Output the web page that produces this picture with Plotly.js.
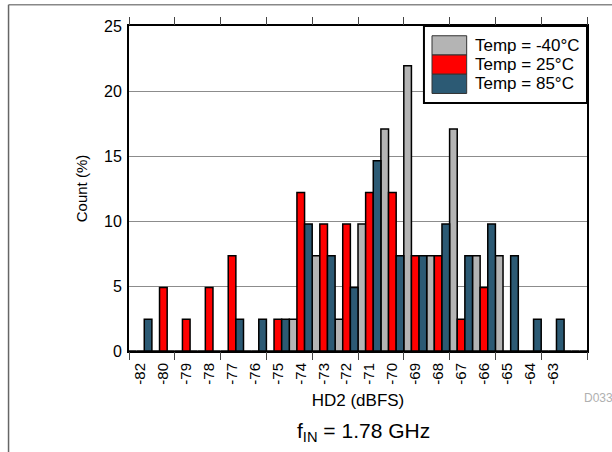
<!DOCTYPE html>
<html>
<head>
<meta charset="utf-8">
<script src="https://cdn.plot.ly/plotly-3.0.1.min.js"></script>
<style>html,body{margin:0;padding:0;background:#fff;}#chart{width:612px;height:452px;}</style>
</head>
<body>
<div id="chart"></div>
<script>
// Bin labels (HD2, dBFS) – one per histogram bin; last bin has no label
const binLabels = ['-82','-80','-79','-78','-77','-76','-75','-74','-73','-72','-71','-70','-69','-68','-67','-66','-65','-64','-63',' '];
// Series names
const seriesNames = ['Temp = -40°C', 'Temp = 25°C', 'Temp = 85°C'];
// Count (%) per bin
const countM40 = [0,0,0,0,0,0,0,2.44,7.32,2.44,9.76,17.07,21.95,7.32,17.07,7.32,7.32,0,0,0];
const count25  = [0,4.88,2.44,4.88,7.32,0,2.44,12.2,9.76,9.76,12.2,12.2,7.32,7.32,2.44,4.88,0,0,0,0];
const count85  = [2.44,0,0,0,2.44,2.44,2.44,9.76,7.32,4.88,14.63,7.32,7.32,9.76,7.32,9.76,7.32,2.44,2.44,0];
const yTicks = [0,5,10,15,20,25];

const colors = ['#b4b4b4', '#ff0000', '#2c5a74'];
const seriesValues = [countM40, count25, count85];

const binPos = binLabels.map((_, i) => i + 0.5);
const majorTicks = [];
for (let i = 0; i <= binLabels.length; i += 2) majorTicks.push(i);

const FONT = 'Liberation Sans, Arial, Helvetica, sans-serif';

const traces = seriesValues.map((vals, k) => ({
  type: 'bar',
  x: binPos,
  y: vals,
  name: seriesNames[k],
  marker: { color: colors[k], line: { color: '#000', width: 1.5 } },
  showlegend: false,
  hoverinfo: 'x+y+name'
}));

// Custom legend (large swatches like the reference)
const shapes = [];
const annotations = [];
const lgX0 = 0.644, lgX1 = 1.0, lgY0 = 0.763, lgY1 = 1.0;
shapes.push({ type: 'rect', xref: 'paper', yref: 'paper', x0: lgX0, x1: lgX1, y0: lgY0, y1: lgY1,
  line: { color: '#000', width: 2 }, fillcolor: '#fff', layer: 'above' });
const swTop = 0.970, swH = 0.0592;
seriesNames.forEach((nm, k) => {
  const yt = swTop - k * swH, yb = yt - swH;
  shapes.push({ type: 'rect', xref: 'paper', yref: 'paper', x0: 0.6616, x1: 0.7373, y0: yb, y1: yt,
    line: { color: '#333', width: 1 }, fillcolor: colors[k], layer: 'above' });
  annotations.push({ xref: 'paper', yref: 'paper', x: 0.752, y: (yt + yb) / 2, xanchor: 'left', yanchor: 'middle',
    text: nm, showarrow: false, font: { family: FONT, size: 17, color: '#000' } });
});

// Outer frame lines (top and left)
shapes.push({ type: 'line', xref: 'paper', yref: 'paper', x0: -0.263, x1: 1.06, y0: 1.0655, y1: 1.0655,
  line: { color: '#888', width: 1.5 } });
shapes.push({ type: 'line', xref: 'paper', yref: 'paper', x0: -0.263, x1: -0.263, y0: 1.0655, y1: -0.32,
  line: { color: '#666', width: 1.5 } });

annotations.push({ xref: 'paper', yref: 'paper', x: 0.513, y: -0.249, xanchor: 'center', yanchor: 'middle',
  text: 'f<sub>IN</sub> = 1.78 GHz', showarrow: false, font: { family: FONT, size: 21, color: '#000' } });
annotations.push({ xref: 'paper', yref: 'paper', x: 0.989, y: -0.145, xanchor: 'left', yanchor: 'middle',
  text: 'D033', showarrow: false, font: { family: FONT, size: 12, color: '#b0b0b0' } });

const layout = {
  width: 612, height: 452,
  margin: { l: 129, r: 25, t: 26, b: 101 },
  paper_bgcolor: '#fff', plot_bgcolor: '#fff',
  font: { family: FONT, color: '#000', size: 15 },
  barmode: 'group', bargap: 0, bargroupgap: 0,
  xaxis: {
    range: [0, binLabels.length],
    tickvals: binPos, ticktext: binLabels,
    tickangle: -90, ticks: '', showgrid: false, zeroline: false,
    showline: true, linecolor: '#000', linewidth: 2, mirror: true,
    ticklabelstandoff: 4,
    tickfont: { family: FONT, size: 15, color: '#000' },
    title: { text: 'HD2 (dBFS)', font: { family: FONT, size: 17, color: '#000' }, standoff: 10 }
  },
  xaxis2: {
    overlaying: 'x', anchor: 'y', side: 'bottom',
    range: [0, binLabels.length],
    tickvals: majorTicks, ticks: 'outside', ticklen: 8, tickwidth: 1, tickcolor: '#444',
    showticklabels: false, showgrid: false, zeroline: false, showline: false, mirror: 'ticks'
  },
  yaxis: {
    range: [0, 25], tickvals: yTicks, ticks: '',
    showgrid: true, gridcolor: '#8c8c8c', gridwidth: 1, zeroline: false,
    showline: true, linecolor: '#000', linewidth: 2, mirror: true,
    ticklabelstandoff: 2,
    tickfont: { family: FONT, size: 16, color: '#000' },
    title: { text: 'Count (%)', font: { family: FONT, size: 15, color: '#000' }, standoff: 13 }
  },
  shapes: shapes,
  annotations: annotations
};

// invisible helper trace so the tick-mark axis (xaxis2) is drawn
traces.push({ type: 'scatter', x: [0], y: [0], xaxis: 'x2', yaxis: 'y', mode: 'markers',
  marker: { opacity: 0 }, showlegend: false, hoverinfo: 'skip' });

Plotly.newPlot('chart', traces, layout, { displayModeBar: false, staticPlot: true });
</script>
</body>
</html>
